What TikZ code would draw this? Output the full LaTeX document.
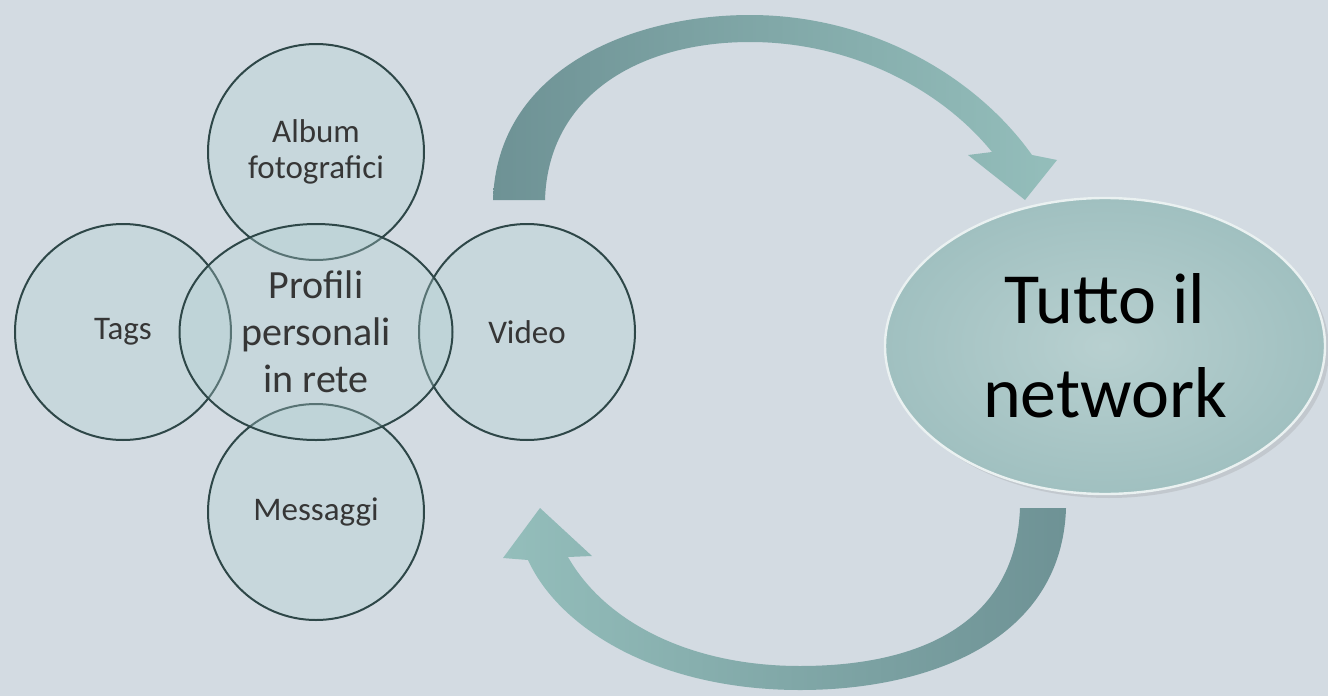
\documentclass[tikz,border=0pt]{standalone}
\usepackage{fontspec}
\setmainfont{Carlito}
\usetikzlibrary{shapes.geometric,shadows}
\definecolor{bg}{HTML}{D3DBE2}
\definecolor{ring}{HTML}{2E4748}
\definecolor{bubble}{HTML}{AFCFD0}
\definecolor{arrdark}{HTML}{6E9295}
\definecolor{arrlight}{HTML}{94BEBB}
\definecolor{ellin}{HTML}{B8D0D0}
\definecolor{ellout}{HTML}{A0C0C0}
\definecolor{txt}{HTML}{363636}
\tikzset{
  bubblenode/.style={circle, draw=ring, line width=1pt, fill=bubble, fill opacity=0.33,
     text opacity=1, text=txt, align=center, inner sep=0pt, minimum size=108pt,
     font=\fontsize{16.5}{18}\selectfont},
  centernode/.style={bubblenode, ellipse, minimum width=136.5pt, minimum height=108pt,
     font=\fontsize{20}{23.5}\selectfont},
  bignode/.style={ellipse, draw=white!70!ellin, line width=1.2pt, inner color=ellin, outer color=ellout,
     minimum width=220pt, minimum height=148pt, align=center, text=black,
     font=\fontsize{36}{47}\selectfont, drop shadow={opacity=0.2, shadow xshift=2pt, shadow yshift=-2pt}},
  arrowband/.style={draw=none}
}
\begin{document}
\begin{tikzpicture}[x=0.5pt,y=-0.5pt]
\fill[bg] (0,0) rectangle (1328,696);
\useasboundingbox (0,0) rectangle (1328,696);

% top curved arrow
\shade[arrowband, left color=arrdark, right color=arrlight]
  (493,200) .. controls (497,70) and (630,15) .. (750,15)
  .. controls (870,15) and (975,75) .. (1032,155)
  -- (1057,160) -- (1025,200) -- (968,155) -- (992,152)
  .. controls (940,88) and (850,42) .. (750,42)
  .. controls (640,42) and (548,95) .. (545,200) -- cycle;

% bottom curved arrow
\shade[arrowband, left color=arrlight, right color=arrdark]
  (1066,508) .. controls (1062,640) and (930,690) .. (800,690)
  .. controls (660,690) and (560,630) .. (528,560)
  -- (503,558) -- (540,508) -- (592,556) -- (568,557)
  .. controls (605,622) and (690,666) .. (800,666)
  .. controls (925,666) and (1016,620) .. (1020,508) -- cycle;

% bubbles
\node[bubblenode] (album) at (316,152) {Album\\fotografici};
\node[bubblenode] (tags) at (123,332) {Tags};
\node[bubblenode] (video) at (527,332) {Video};
\node[bubblenode] (mess) at (316,512) {Messaggi};
\node[centernode] (prof) at (316,332) {Profili\\personali\\in rete};

% big ellipse
\node[bignode] (net) at (1105,346) {Tutto il\\network};
\end{tikzpicture}
\end{document}
